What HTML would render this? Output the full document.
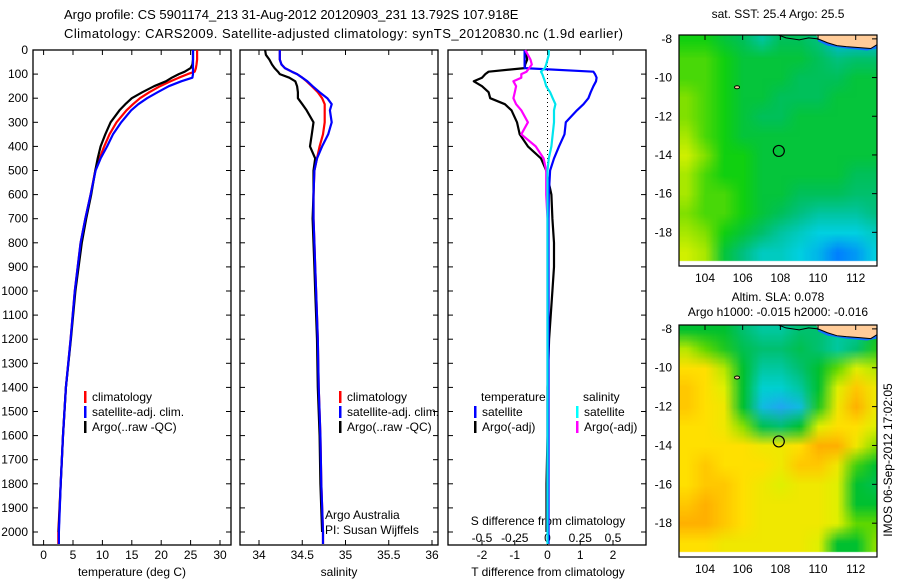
<!DOCTYPE html>
<html><head><meta charset="utf-8">
<style>
html,body{margin:0;padding:0;background:#fff;}
#wrap{position:relative;width:900px;height:580px;overflow:hidden;font-family:"Liberation Sans",sans-serif;}
canvas{position:absolute;}
svg{position:absolute;left:0;top:0;}
text{font-family:"Liberation Sans",sans-serif;font-size:12px;fill:#000;}
</style></head>
<body>
<div id="wrap">
<canvas id="sstMap" width="198" height="231" style="left:679px;top:35px"></canvas>
<canvas id="slaMap" width="198" height="232" style="left:679px;top:325px"></canvas>
<svg id="fig" width="900" height="580"></svg>
</div>
<script>
// ---------- data ----------
const depths = [0,20,40,60,75,90,100,115,130,150,175,200,225,250,300,350,400,450,500,600,700,800,900,1000,1200,1400,1600,1800,2000,2050];
const tempClim = [26.1,26.1,26.1,26.0,25.9,25.7,24.5,23.0,21.6,19.8,18.0,16.4,15.2,14.1,12.4,11.2,10.3,9.5,8.8,8.0,7.1,6.3,5.8,5.3,4.6,3.8,3.3,2.9,2.5,2.5];
const tempSat = [25.4,25.4,25.4,25.4,25.4,25.4,25.4,25.3,23.4,21.3,19.4,17.6,16.1,14.9,13.2,11.8,10.8,9.7,8.85,8.0,7.1,6.3,5.8,5.3,4.6,3.8,3.3,2.9,2.6,2.6];
const tempArgo = [25.4,25.4,25.4,25.3,25.0,24.0,23.0,21.8,20.8,18.8,16.8,15.0,13.9,12.9,11.4,10.5,9.7,9.2,8.8,8.1,7.25,6.5,5.95,5.4,4.65,3.8,3.3,2.9,2.55,null];
const salClim = [34.24,34.24,34.24,34.26,34.30,34.38,34.44,34.50,34.55,34.61,34.68,34.73,34.76,34.76,34.76,34.74,34.70,34.67,34.64,34.63,34.63,34.64,34.65,34.66,34.68,34.69,34.71,34.72,34.74,34.74];
const salSat = [34.24,34.24,34.24,34.26,34.30,34.38,34.44,34.50,34.56,34.62,34.70,34.79,34.84,34.82,34.84,34.80,34.73,34.67,34.64,34.63,34.63,34.64,34.65,34.66,34.68,34.69,34.71,34.72,34.74,34.74];
const salArgo = [34.07,34.08,34.12,34.15,34.18,34.22,34.24,34.35,34.42,34.44,34.45,34.45,34.50,34.55,34.63,34.61,34.59,34.65,34.63,34.63,34.62,34.63,34.64,34.65,34.67,34.68,34.70,34.71,34.73,null];
const tDiffSat = [-0.7,-0.7,-0.7,-0.7,-0.7,1.4,1.45,1.5,1.48,1.4,1.32,1.25,1.1,0.9,0.56,0.52,0.35,0.2,0.08,0.04,0.03,0.03,0.03,0.03,0.03,0.03,0.03,0.03,0.03,0.03];
const tDiffArgo = [-0.65,-0.65,-0.62,-0.68,-0.7,-1.8,-1.9,-2.0,-2.25,-2.0,-1.8,-1.75,-1.3,-1.1,-0.93,-0.85,-0.6,-0.2,-0.04,0.12,0.15,0.2,0.2,0.15,0.05,0.0,0.0,-0.03,-0.03,null];
const sDiffSat = [0.01,0.01,0.0,-0.01,-0.02,-0.05,-0.04,-0.03,-0.02,-0.01,0.02,0.04,0.06,0.05,0.05,0.04,0.03,0.01,0.0,0.0,0.0,0.0,0.0,0.0,0.0,0.0,0.0,0.0,0.0,0.0];
const sDiffArgo = [-0.17,-0.15,-0.13,-0.12,-0.14,-0.16,-0.2,-0.2,-0.26,-0.24,-0.25,-0.26,-0.24,-0.2,-0.15,-0.2,-0.09,-0.03,-0.01,-0.01,0.0,0.0,0.0,0.0,0.0,0.0,0.0,0.0,0.0,null];
const depthTicks = [0,100,200,300,400,500,600,700,800,900,1000,1100,1200,1300,1400,1500,1600,1700,1800,1900,2000];
const tempTicks = [0,5,10,15,20,25,30];
const salTicks = [34,34.5,35,35.5,36];
const tDiffTicks = [-2,-1,0,1,2];
const sDiffTicks = [-0.5,-0.25,0,0.25,0.5];
const mapLons = [103,104,105,106,107,108,109,110,111,112,113];
const mapLats = [-8,-9,-10,-11,-12,-13,-14,-15,-16,-17,-18,-19];
const sstGrid = [
[25.4,25.4,25.3,25.2,24.9,25.2,25.2,25.0,24.6,24.6,24.6],
[25.5,25.5,25.4,25.3,25.3,25.3,25.3,25.2,25.0,25.1,25.1],
[25.5,25.5,25.4,25.3,25.3,25.3,25.2,25.2,25.2,25.3,25.3],
[25.6,25.5,25.4,25.3,25.3,25.2,25.2,25.2,25.3,25.3,25.3],
[25.6,25.5,25.4,25.3,25.2,25.2,25.3,25.3,25.3,25.3,25.3],
[25.7,25.5,25.4,25.3,25.3,25.3,25.3,25.3,25.3,25.3,25.3],
[25.8,25.6,25.4,25.4,25.3,25.3,25.3,25.3,25.3,25.3,25.3],
[25.7,25.5,25.4,25.4,25.3,25.3,25.3,25.3,25.3,25.2,25.2],
[25.7,25.5,25.5,25.4,25.3,25.3,25.2,25.2,25.2,25.1,25.1],
[25.6,25.5,25.5,25.4,25.3,25.2,25.0,24.9,24.9,24.9,25.0],
[25.7,25.6,25.4,25.3,25.1,24.9,24.8,24.7,24.7,24.7,24.8],
[25.8,25.7,25.3,25.0,24.8,24.8,24.7,24.6,24.4,24.5,24.7]];
const slaGrid = [
[0.00,0.00,0.00,-0.02,-0.03,-0.03,-0.02,-0.02,-0.03,-0.03,0.00],
[0.05,0.03,0.01,-0.01,-0.02,-0.02,-0.01,-0.02,-0.03,-0.02,0.01],
[0.08,0.08,0.05,0.00,-0.03,-0.03,-0.02,0.00,0.03,0.06,0.05],
[0.09,0.08,0.06,0.00,-0.04,-0.04,-0.03,0.00,0.06,0.09,0.07],
[0.09,0.08,0.07,0.00,-0.05,-0.06,-0.05,0.01,0.07,0.10,0.07],
[0.08,0.08,0.07,0.04,-0.01,-0.02,0.00,0.06,0.08,0.08,0.06],
[0.08,0.08,0.08,0.08,0.07,0.07,0.08,0.10,0.10,0.07,0.04],
[0.08,0.09,0.08,0.08,0.08,0.07,0.09,0.09,0.07,0.02,0.00],
[0.08,0.09,0.09,0.08,0.07,0.06,0.07,0.07,0.06,0.00,-0.01],
[0.09,0.10,0.09,0.08,0.07,0.07,0.07,0.07,0.06,0.00,0.00],
[0.10,0.10,0.09,0.08,0.07,0.07,0.07,0.07,0.06,0.03,0.03],
[0.08,0.08,0.07,0.07,0.07,0.07,0.07,0.06,0.00,0.00,0.04]];
const mapLonTicks = [104,106,108,110,112];
const mapLatTicks = [-8,-10,-12,-14,-16,-18];
const argoPos = [107.918,-13.792];

// ---------- axes ----------
const NS='http://www.w3.org/2000/svg';
const svg=document.getElementById('fig');
function el(tag,attrs,parent){const e=document.createElementNS(NS,tag);for(const k in attrs)e.setAttribute(k,attrs[k]);(parent||svg).appendChild(e);return e;}
function txt(x,y,s,anchor,parent,size){const t=el('text',{x:x,y:y,'text-anchor':anchor||'middle'},parent);if(size)t.setAttribute('style','font-size:'+size+'px');t.textContent=s;return t;}
const yD=d=>50+d*0.241;
const xT=t=>43.6+t*5.88;
const xS=s=>259+(s-34)*86.5;
const xDT=t=>547.5+t*32.75;
const xDS=s=>xDT(s*4);
const TOP=50,BOT=545;
const panels=[{l:33,r:231},{l:240,r:438},{l:448,r:646}];

// titles
let t1=txt(64,19,'Argo profile: CS 5901174_213 31-Aug-2012 20120903_231 13.792S 107.918E','start',null,13);

let t2=txt(64,38,'Climatology: CARS2009. Satellite-adjusted climatology: synTS_20120830.nc (1.9d earlier)','start',null,13);

t2.setAttribute('textLength','559');

// panel frames & depth ticks
panels.forEach((p,i)=>{
  const g=el('g',{});
  
  
  el('rect',{x:p.l,y:TOP,width:p.r-p.l,height:BOT-TOP,fill:'none',stroke:'#000','stroke-width':1.3},g);
  depthTicks.forEach(d=>{
    el('line',{x1:p.l,x2:p.l+5,y1:yD(d),y2:yD(d),stroke:'#000'},g);
    el('line',{x1:p.r-5,x2:p.r,y1:yD(d),y2:yD(d),stroke:'#000'},g);
  });
});
const ylab=el('g',{});


depthTicks.forEach(d=>txt(28,yD(d)+4,String(d),'end',ylab));

function xAxis(ticks,fx,y,labelY,name,pTop,pBot){
  const g=el('g',{});
  
  
  ticks.forEach(v=>{
    const x=fx(v);
    if(pTop)el('line',{x1:x,x2:x,y1:TOP,y2:TOP+5,stroke:'#000'},g);
    if(pBot)el('line',{x1:x,x2:x,y1:BOT-5,y2:BOT,stroke:'#000'},g);
    txt(x,labelY,String(v),'middle',g);
  });
  return g;
}
xAxis(tempTicks,xT,0,559,'temperature-x-axis',true,true);
xAxis(salTicks,xS,0,559,'salinity-x-axis',true,true);
xAxis(tDiffTicks,xDT,0,559,'t-diff-x-axis',true,true);
xAxis(sDiffTicks,xDS,0,542,'s-diff-x-axis',false,false);
let l1=txt(132,576,'temperature (deg C)');
let l2=txt(339,576,'salinity');
let l3=txt(548,576,'T difference from climatology');
let l4=txt(548,525,'S difference from climatology');

// zero dotted line
const zl=el('line',{x1:xDT(0),x2:xDT(0),y1:TOP,y2:yD(500),stroke:'#000','stroke-dasharray':'1,3'});


function profile(vals,fx,color,name,w){
  let d='';let started=false;
  vals.forEach((v,i)=>{if(v===null)return;const x=fx(v),y=yD(depths[i]);d+=(started?'L':'M')+x.toFixed(1)+','+y.toFixed(1);started=true;});
  const p=el('path',{d:d,fill:'none',stroke:color,'stroke-width':w||2.2,'stroke-linejoin':'round'});
  
  
}
profile(tempClim,xT,'#ff0000','temp-climatology-line');
profile(tempArgo,xT,'#000000','temp-argo-line');
profile(tempSat,xT,'#0000ff','temp-satellite-line');
profile(salClim,xS,'#ff0000','sal-climatology-line');
profile(salArgo,xS,'#000000','sal-argo-line');
profile(salSat,xS,'#0000ff','sal-satellite-line');
profile(tDiffArgo,xDT,'#000000','t-diff-argo-line');
profile(tDiffSat,xDT,'#0000ff','t-diff-satellite-line');
profile(sDiffArgo,xDS,'#ff00ff','s-diff-argo-line');
profile(sDiffSat,xDS,'#00e5ee','s-diff-satellite-line');

// legends
function legendEntry(x,y,color,label,name){
  const g=el('g',{});
  
  
  el('rect',{x:x,y:y-10,width:2.5,height:12,fill:color},g);
  txt(x+8,y,label,'start',g);
}
[[84,'p1'],[339,'p2']].forEach(([x,p])=>{
  legendEntry(x,401,'#ff0000','climatology',p+'-legend-climatology');
  legendEntry(x,416,'#0000ff','satellite-adj. clim.',p+'-legend-satellite');
  legendEntry(x,431,'#000000','Argo(..raw -QC)',p+'-legend-argo');
});
let lt=txt(481,401,'temperature','start');
let ls=txt(583,401,'salinity','start');
legendEntry(474,416,'#0000ff','satellite','legend-t-satellite');
legendEntry(474,431,'#000000','Argo(-adj)','legend-t-argo');
legendEntry(576,416,'#00ffff','satellite','legend-s-satellite');
legendEntry(576,431,'#ff00ff','Argo(-adj)','legend-s-argo');
let c1=txt(325,519,'Argo Australia','start');
let c2=txt(325,534,'PI: Susan Wijffels','start');

// ---------- maps ----------
const maps=[{id:'sstMap',top:35,bot:266,grid:sstGrid,name:'sst'},{id:'slaMap',top:325,bot:557,grid:slaGrid,name:'sla'}];
const LON0=102.62,LON1=113.13,LAT0=-7.8,LAT1=-19.74;
const ML=679,MR=877;
const xLon=lon=>ML+(lon-LON0)/(LON1-LON0)*(MR-ML);
const sstStops=[[24.4,[0,128,255]],[24.7,[0,208,224]],[25.0,[0,192,128]],[25.25,[0,192,80]],[25.4,[16,208,16]],[25.6,[128,224,0]],[25.8,[208,240,0]]];
const slaStops=[[-0.06,[32,168,240]],[-0.04,[0,208,208]],[-0.02,[0,192,112]],[0.0,[0,192,48]],[0.03,[96,216,0]],[0.06,[224,240,0]],[0.08,[255,224,0]],[0.10,[255,176,0]]];
function cmap(v,stops){
  if(v<=stops[0][0])return stops[0][1];
  for(let i=1;i<stops.length;i++){if(v<=stops[i][0]){const a=stops[i-1],b=stops[i];const f=(v-a[0])/(b[0]-a[0]);return a[1].map((c,k)=>Math.round(c+(b[1][k]-c)*f));}}
  return stops[stops.length-1][1];
}
maps.forEach(m=>{
  const yLat=lat=>m.top+(lat-LAT0)/(LAT1-LAT0)*(m.bot-m.top);
  m.yLat=yLat;
  const small=document.createElement('canvas');
  small.width=mapLons.length;small.height=mapLats.length;
  const sc=small.getContext('2d');
  const img=sc.createImageData(small.width,small.height);
  m.grid.forEach((row,r)=>row.forEach((v,c)=>{
    const col=cmap(v,m.name==='sst'?sstStops:slaStops);
    const k=(r*small.width+c)*4;img.data[k]=col[0];img.data[k+1]=col[1];img.data[k+2]=col[2];img.data[k+3]=255;
  }));
  sc.putImageData(img,0,0);
  const cv=document.getElementById(m.id);
  const ctx=cv.getContext('2d');
  ctx.imageSmoothingEnabled=true;
  const x0=xLon(mapLons[0]-0.5)-ML,x1=xLon(mapLons[mapLons.length-1]+0.5)-ML;
  const y0=yLat(mapLats[0]+0.5)-m.top,y1=yLat(mapLats[mapLats.length-1]-0.5)-m.top;
  ctx.drawImage(small,x0,y0,x1-x0,y1-y0);

  const g=el('g',{});
  
  
  // land
  const land=[[109.9,-7.8],[113.13,-7.8],[113.13,-8.3],[112.8,-8.5],[112.2,-8.45],[111.5,-8.4],[111,-8.35],[110.5,-8.2],[110,-8.0]];
  el('polygon',{points:land.map(p=>xLon(p[0])+','+yLat(p[1])).join(' '),fill:'#ffcc99'},g);
  const shelf=[[110,-8.0],[110.5,-8.2],[111,-8.35],[111.5,-8.4],[112.2,-8.45],[112.8,-8.5],[113.13,-8.3],[113.13,-8.5],[112.6,-8.6],[111.5,-8.5],[110.5,-8.35],[110,-8.12]];
  el('polygon',{points:shelf.map(p=>xLon(p[0])+','+yLat(p[1])).join(' '),fill:'#1070ff'},g);
  const coast=[[107.9,-7.8],[108.3,-7.95],[109,-8.05],[109.5,-7.95],[110,-8.0],[110.5,-8.2],[111,-8.35],[111.5,-8.4],[112.2,-8.45],[112.8,-8.5],[113.13,-8.3]];
  el('polyline',{points:coast.map(p=>xLon(p[0])+','+yLat(p[1])).join(' '),fill:'none',stroke:'#000','stroke-width':1},g);
  el('ellipse',{cx:xLon(105.7),cy:yLat(-10.5),rx:2.5,ry:1.5,fill:'#ffcc99',stroke:'#000'},g);
  const circ=el('circle',{cx:xLon(argoPos[0]),cy:yLat(argoPos[1]),r:5.5,fill:'none',stroke:'#000','stroke-width':1.2},g);
  
  
  el('rect',{x:ML,y:m.top,width:MR-ML,height:m.bot-m.top,fill:'none',stroke:'#000','stroke-width':1.2},g);
  mapLonTicks.forEach(lon=>{const x=xLon(lon);el('line',{x1:x,x2:x,y1:m.top,y2:m.top+5,stroke:'#000'},g);txt(x,m.bot+16,String(lon),'middle',g);});
  mapLatTicks.forEach(lat=>{const y=yLat(lat);el('line',{x1:MR-5,x2:MR,y1:y,y2:y,stroke:'#000'},g);txt(672,y+4,String(lat),'end',g);});
});
let m1=txt(778,18,'sat. SST: 25.4  Argo: 25.5');
let m2=txt(778,301,'Altim. SLA: 0.078');
let m3=txt(778,316,'Argo h1000: -0.015 h2000: -0.016');
let st=txt(0,0,'IMOS 06-Sep-2012 17:02:05','middle');
st.setAttribute('transform','translate(892,460) rotate(-90)');


</script>
</body></html>
